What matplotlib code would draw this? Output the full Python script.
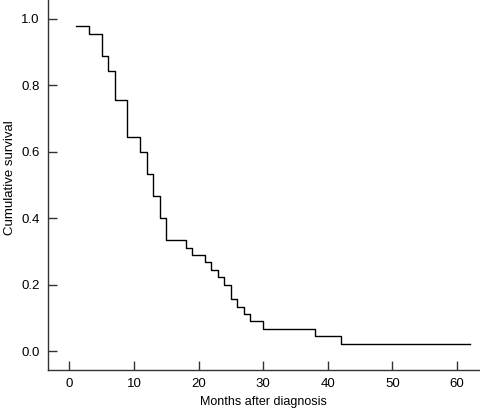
import matplotlib.pyplot as plt

plt.rcParams['font.family'] = ['Liberation Sans', 'DejaVu Sans']

# Kaplan-Meier step data
months = [1, 3, 5, 6, 7, 9, 11, 12, 13, 14, 15, 18, 19, 21, 22, 23, 24,
          25, 26, 27, 28, 30, 38, 42, 62]
survival = [0.978, 0.956, 0.889, 0.844, 0.756, 0.644, 0.600, 0.533, 0.467,
            0.400, 0.333, 0.311, 0.289, 0.267, 0.244, 0.222, 0.200, 0.156,
            0.133, 0.111, 0.089, 0.067, 0.044, 0.022, 0.022]
x_ticks = [0, 10, 20, 30, 40, 50, 60]
y_ticks = [0.0, 0.2, 0.4, 0.6, 0.8, 1.0]

fig = plt.figure(figsize=(4.8, 4.12), dpi=100)
ax = fig.add_axes([0.1, 0.102, 0.898, 0.898])

ax.step(months, survival, where='post', color='black', linewidth=1.0)

ax.set_xlim(-3.3, 63.4)
ax.set_ylim(-0.057, 1.057)
ax.set_xticks(x_ticks)
ax.set_yticks(y_ticks)
ax.set_yticklabels([f'{v:.1f}' for v in y_ticks])

for side in ['top', 'right']:
    ax.spines[side].set_visible(False)
for side in ['left', 'bottom']:
    ax.spines[side].set_color('#333333')
    ax.spines[side].set_linewidth(1.0)

ax.tick_params(direction='in', length=6.5, width=1.0, color='#333333',
               labelsize=9.5, pad=6)
ax.set_xlabel('Months after diagnosis', fontsize=9, labelpad=4)
ax.set_ylabel('Cumulative survival', fontsize=9.5)
ax.yaxis.set_label_coords(-0.074, 0.519)

fig.savefig('out.png', dpi=100)
